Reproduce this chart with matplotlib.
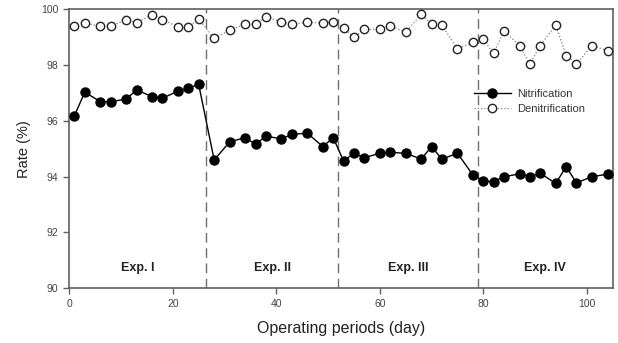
import matplotlib
matplotlib.use("Agg")
import matplotlib.pyplot as plt
from matplotlib.lines import Line2D

plt.rcParams['font.family'] = ['Liberation Sans', 'DejaVu Sans']

days = [1, 3, 6, 8, 11, 13, 16, 18, 21, 23, 25,
        28, 31, 34, 36, 38, 41, 43, 46, 49, 51,
        53, 55, 57, 60, 62, 65, 68, 70, 72, 75, 78, 80,
        82, 84, 87, 89, 91, 94, 96, 98, 101, 104]

nitrification = [96.19, 97.03, 96.69, 96.69, 96.78, 97.11, 96.87, 96.81, 97.07, 97.17, 97.31,
                 94.60, 95.25, 95.40, 95.16, 95.46, 95.35, 95.52, 95.56, 95.08, 95.40,
                 94.56, 94.84, 94.68, 94.84, 94.87, 94.84, 94.63, 95.08, 94.63, 94.84, 94.06, 93.85,
                 93.82, 94.00, 94.10, 94.00, 94.12, 93.76, 94.36, 93.78, 94.00, 94.09]

denitrification = [99.40, 99.50, 99.40, 99.40, 99.62, 99.52, 99.80, 99.62, 99.38, 99.38, 99.65,
                   98.96, 99.26, 99.47, 99.46, 99.71, 99.56, 99.46, 99.54, 99.50, 99.56,
                   99.32, 99.00, 99.28, 99.28, 99.40, 99.18, 99.82, 99.47, 99.43, 98.58, 98.82, 98.92,
                   98.42, 99.22, 98.70, 98.04, 98.70, 99.44, 98.34, 98.04, 98.70, 98.52]

boundaries = [26.5, 52, 79]
exp_labels = ["Exp. I", "Exp. II", "Exp. III", "Exp. IV"]
x_ticks = [0, 20, 40, 60, 80, 100]
y_ticks = [90, 92, 94, 96, 98, 100]

fig = plt.figure(figsize=(6.18, 3.43), dpi=100)
ax = fig.add_axes([0.1121, 0.1595, 0.9914 - 0.1121, 0.9729 - 0.1595])

spine_col = '#606060'
ax.plot(days, denitrification, linestyle=':', color='#808080', linewidth=0.9,
        marker='o', markersize=6, markerfacecolor='white',
        markeredgecolor='#222222', markeredgewidth=1.0, zorder=3)
ax.plot(days, nitrification, linestyle='-', color='black', linewidth=1.0,
        marker='o', markersize=6.5, markerfacecolor='black',
        markeredgecolor='black', zorder=4)

for b in boundaries:
    ax.axvline(b, color='#707070', linestyle=(0, (7, 4)), linewidth=1.0, zorder=2)

edges = [0] + boundaries + [105]
for i, lab in enumerate(exp_labels):
    cx = (edges[i] + edges[i + 1]) / 2
    ax.text(cx, 90.73, lab, ha='center', va='center', fontsize=9,
            fontweight='bold', color='#222222')

ax.set_xlim(0, 105)
ax.set_ylim(90, 100)
ax.set_xticks(x_ticks)
ax.set_yticks(y_ticks)
ax.tick_params(direction='out', length=4, width=1, color=spine_col,
               labelsize=7.5, labelcolor='#444444', pad=4)
for s in ax.spines.values():
    s.set_color(spine_col)
    s.set_linewidth(1.2)

ax.set_xlabel("Operating periods (day)", fontsize=11.5, color='#222222', labelpad=8)
ax.set_ylabel("Rate (%)", fontsize=10.5, color='#222222', labelpad=7)

handles = [
    Line2D([], [], linestyle='-', color='black', linewidth=1.0, marker='o',
           markersize=6.5, markerfacecolor='black', markeredgecolor='black'),
    Line2D([], [], linestyle=':', color='#808080', linewidth=0.9, marker='o',
           markersize=6, markerfacecolor='white', markeredgecolor='#222222'),
]
leg = ax.legend(handles, ["Nitrification", "Denitrification"], loc='upper left',
                bbox_to_anchor=(0.745, 0.715), frameon=False, fontsize=8,
                handlelength=3.3, handletextpad=0.6, labelspacing=0.45,
                borderaxespad=0, borderpad=0)
for t in leg.get_texts():
    t.set_color('#333333')

fig.savefig("out.png", dpi=100)
